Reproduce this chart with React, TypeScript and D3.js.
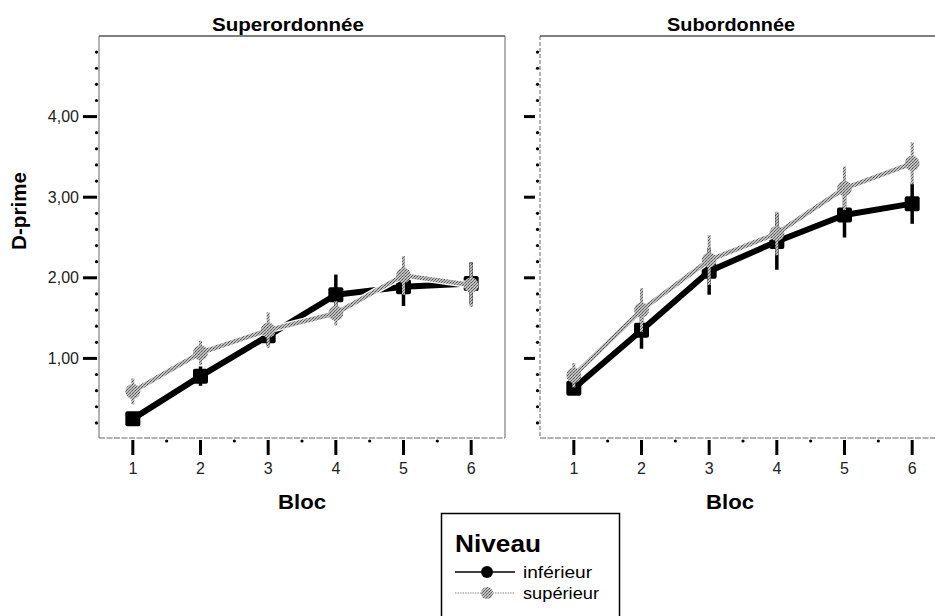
import React from "react";
import * as d3 from "d3";

// Blocks on the x axis
const blocs = [1, 2, 3, 4, 5, 6];

// Superordonnée panel: mean D-prime and error half-widths
const superInf = [0.25, 0.78, 1.28, 1.79, 1.89, 1.93];
const superInfErr = [0.08, 0.12, 0.12, 0.25, 0.24, 0.26];
const superSup = [0.59, 1.07, 1.35, 1.56, 2.03, 1.91];
const superSupErr = [0.16, 0.15, 0.22, 0.15, 0.24, 0.27];

// Subordonnée panel
const subInf = [0.63, 1.35, 2.08, 2.45, 2.78, 2.92];
const subInfErr = [0.06, 0.23, 0.29, 0.35, 0.28, 0.25];
const subSup = [0.79, 1.6, 2.22, 2.55, 3.11, 3.42];
const subSupErr = [0.15, 0.27, 0.31, 0.27, 0.27, 0.26];

const yTicks = [1, 2, 3, 4];
const yTickLabels = ["1,00", "2,00", "3,00", "4,00"];
const panelTitles = ["Superordonnée", "Subordonnée"];
const legendTitle = "Niveau";
const legendLabels = ["inférieur", "supérieur"];

const W = 935;
const H = 616;
const FONT = "'Liberation Sans', Arial, Helvetica, sans-serif";

const y = d3.scaleLinear().domain([0, 5]).range([439, 36]);
const minorY = d3.range(1, 25).map((i) => i * 0.2).filter((v) => Math.abs(v - Math.round(v)) > 0.01);
const minorX = [1.5, 2.5, 3.5, 4.5, 5.5];

type PanelProps = {
  x0: number;
  x1: number;
  title: string;
  titleX: number;
  titleLen: number;
  blocX: number;
  inf: number[];
  infErr: number[];
  sup: number[];
  supErr: number[];
  showLabels: boolean;
  dashedAxis: boolean;
};

function Panel(p: PanelProps) {
  const x = d3.scaleLinear().domain([0.5, 6.5]).range([p.x0, p.x1]);
  const line = d3
    .line<number>()
    .x((_, i) => x(blocs[i]))
    .y((d) => y(d));
  const sq = 15;
  return (
    <g>
      {/* frame */}
      <line x1={p.x0} x2={p.x1} y1={36} y2={36} stroke="#555" strokeWidth={1.3} />
      <line x1={p.x1} x2={p.x1} y1={36} y2={438} stroke="#666" strokeWidth={1} />
      <line
        x1={p.x0}
        x2={p.x0}
        y1={36}
        y2={438}
        stroke="#666"
        strokeWidth={1}
        strokeDasharray={p.dashedAxis ? "4,2" : undefined}
      />
      <line x1={p.x0} x2={p.x1} y1={438} y2={438} stroke="#666" strokeWidth={1} strokeDasharray="6,1.5" />

      {/* y axis ticks */}
      {yTicks.map((v, i) => (
        <g key={"yt" + v}>
          <line
            x1={p.x0 - 16}
            x2={p.showLabels ? p.x0 - 2 : p.x0 - 5}
            y1={y(v)}
            y2={y(v)}
            stroke="#000"
            strokeWidth={3}
          />
          {p.showLabels && (
            <text x={p.x0 - 20} y={y(v) + 5.5} textAnchor="end" fontSize={16} fontFamily={FONT} fill="#222">
              {yTickLabels[i]}
            </text>
          )}
        </g>
      ))}
      {minorY.map((v) => (
        <circle key={"ym" + v} cx={p.x0 - 2.5} cy={y(v)} r={1.6} fill="#000" />
      ))}

      {/* x axis ticks */}
      {blocs.map((b) => (
        <g key={"xt" + b}>
          <line x1={x(b)} x2={x(b)} y1={440} y2={455} stroke="#000" strokeWidth={3} />
          <text x={x(b)} y={474} textAnchor="middle" fontSize={16} fontFamily={FONT} fill="#222">
            {b}
          </text>
        </g>
      ))}
      {minorX.map((v) => (
        <circle key={"xm" + v} cx={x(v)} cy={441} r={1.6} fill="#000" />
      ))}

      {/* inférieur series */}
      {p.inf.map((v, i) => (
        <line
          key={"ie" + i}
          x1={x(blocs[i])}
          x2={x(blocs[i])}
          y1={y(v - p.infErr[i])}
          y2={y(v + p.infErr[i])}
          stroke="#000"
          strokeWidth={3.5}
        />
      ))}
      <path d={line(p.inf) || ""} fill="none" stroke="#000" strokeWidth={6} strokeLinejoin="round" />
      {p.inf.map((v, i) => (
        <rect
          key={"im" + i}
          x={x(blocs[i]) - sq / 2}
          y={y(v) - sq / 2}
          width={sq}
          height={sq}
          rx={2}
          fill="#000"
        />
      ))}

      {/* supérieur series */}
      <path d={line(p.sup) || ""} fill="none" stroke="#fff" strokeWidth={7} strokeLinejoin="round" />
      <path d={line(p.sup) || ""} fill="none" stroke="url(#speckle)" strokeWidth={4.5} strokeLinejoin="round" />
      {p.sup.map((v, i) => (
        <line
          key={"se" + i}
          x1={x(blocs[i])}
          x2={x(blocs[i])}
          y1={y(v - p.supErr[i])}
          y2={y(v + p.supErr[i])}
          stroke="url(#speckle)"
          strokeWidth={3}
        />
      ))}
      {p.sup.map((v, i) => (
        <circle key={"sm" + i} cx={x(blocs[i])} cy={y(v)} r={7.5} fill="url(#speckle)" />
      ))}

      {/* labels */}
      <text
        x={p.titleX}
        y={31}
        textAnchor="middle"
        fontSize={18}
        fontWeight="bold"
        fontFamily={FONT}
        textLength={p.titleLen}
        lengthAdjust="spacingAndGlyphs"
      >
        {p.title}
      </text>
      <text
        x={p.blocX}
        y={509}
        textAnchor="middle"
        fontSize={21}
        fontWeight="bold"
        fontFamily={FONT}
        textLength={48}
        lengthAdjust="spacingAndGlyphs"
      >
        Bloc
      </text>
    </g>
  );
}

export default function App() {
  return (
    <svg
      width={W}
      height={H}
      viewBox={`0 0 ${W} ${H}`}
      style={{ position: "absolute", left: 0, top: 0, background: "#fff" }}
    >
      <defs>
        <pattern id="speckle" width={3} height={3} patternUnits="userSpaceOnUse">
          <rect width={3} height={3} fill="#bdbdbd" />
          <rect x={0} y={0} width={1} height={1} fill="#555" />
          <rect x={2} y={1} width={1} height={1} fill="#777" />
          <rect x={1} y={2} width={1} height={1} fill="#666" />
        </pattern>
      </defs>
      <rect width={W} height={H} fill="#fff" />

      <Panel
        x0={99}
        x1={505}
        title={panelTitles[0]}
        titleX={288}
        titleLen={152}
        blocX={302}
        inf={superInf}
        infErr={superInfErr}
        sup={superSup}
        supErr={superSupErr}
        showLabels={true}
        dashedAxis={false}
      />
      <Panel
        x0={540}
        x1={946}
        title={panelTitles[1]}
        titleX={731}
        titleLen={128}
        blocX={730}
        inf={subInf}
        infErr={subInfErr}
        sup={subSup}
        supErr={subSupErr}
        showLabels={false}
        dashedAxis={true}
      />

      {/* y axis title */}
      <text
        transform="translate(26,211) rotate(-90)"
        textAnchor="middle"
        fontSize={20}
        fontWeight="bold"
        fontFamily={FONT}
        textLength={78}
        lengthAdjust="spacingAndGlyphs"
      >
        D-prime
      </text>

      {/* legend */}
      <rect x={441.5} y={513.5} width={178} height={120} fill="#fff" stroke="#000" strokeWidth={1.5} />
      <text
        x={455}
        y={552}
        fontSize={23}
        fontWeight="bold"
        fontFamily={FONT}
        textLength={86}
        lengthAdjust="spacingAndGlyphs"
      >
        {legendTitle}
      </text>
      <line x1={455} x2={515} y1={572} y2={572} stroke="#000" strokeWidth={1.5} />
      <circle cx={487} cy={572} r={6} fill="#000" />
      <text x={523} y={578} fontSize={17} fontFamily={FONT} textLength={69} lengthAdjust="spacingAndGlyphs">
        {legendLabels[0]}
      </text>
      <line x1={455} x2={515} y1={593} y2={593} stroke="#888" strokeWidth={1} strokeDasharray="1.5,1" />
      <circle cx={487} cy={593} r={6} fill="url(#speckle)" />
      <text x={523} y={599} fontSize={17} fontFamily={FONT} textLength={76} lengthAdjust="spacingAndGlyphs">
        {legendLabels[1]}
      </text>
    </svg>
  );
}
